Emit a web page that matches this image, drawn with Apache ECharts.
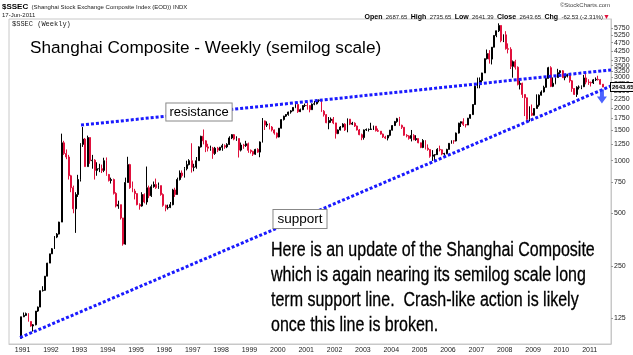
<!DOCTYPE html>
<html><head><meta charset="utf-8">
<script src="https://cdn.jsdelivr.net/npm/echarts@6/dist/echarts.min.js"></script>
<style>html,body{margin:0;padding:0;background:#fff}#c{width:633px;height:355px}</style>
</head><body><div id="c"></div>
<script>
// Monthly bars, starting December 1990
const startYear = 1990, startMonth = 12;
const firstOpen = 96.05;
const closes = [
 127.6,
 129.97,133,120,113,114.8,137.6,145,180,180.9,218,259,292.75,
 313,365,380,445,1266,1100,1050,820,700,530,640,780,
 1240,1330,925,1358,1000,1007,880,900,900,880,1000,834,
 770,780,650,550,560,470,333,750,950,700,670,648,
 560,550,640,580,700,630,710,730,700,720,640,555,
 537,540,560,680,640,780,850,820,900,950,1000,917,
 920,1000,1200,1380,1300,1200,1180,1180,1100,1180,1150,1194,
 1220,1200,1240,1350,1410,1330,1340,1150,1230,1220,1250,1147,
 1130,1090,1160,1120,1280,1690,1600,1620,1560,1500,1440,1367,
 1535,1720,1800,1840,1900,1930,2020,2100,1910,1960,2070,2073,
 2070,1960,2110,2120,2215,2218,1920,1835,1650,1700,1730,1646,
 1430,1500,1560,1620,1500,1730,1620,1640,1580,1500,1410,1357,
 1500,1510,1510,1520,1576,1487,1476,1421,1367,1348,1397,1497,
 1590,1675,1742,1595,1555,1399,1386,1342,1396,1320,1340,1266,
 1191,1306,1181,1159,1060,1080,1083,1162,1155,1092,1099,1161,
 1258,1299,1298,1440,1641,1672,1612,1601,1752,1837,2099,2675,
 2786,2881,3183,3841,4109,3820,4471,5218,5552,5954,4871,5261,
 4383,4348,3472,3693,3433,2736,2775,2397,2293,1728,1871,1821,
 1991,2082,2373,2477,2632,2959,3412,2667,2779,2995,3195,3277,
 2989,3051,3109,2870,2592,2398,2638,2638,2655,2979,2820,2808,
 2790,2905,2928,2911,2743,2643.65
];
const highs = [
 127.6,
 135,134.9,134,120,116,137.6,146,180,191,218,260,292.75,
 316,370,385,447,1429,1300,1160,1080,830,720,660,830,
 1260,1559,1350,1392,1300,1080,1020,980,960,950,1040,1044,
 840,800,790,660,590,560,470,800,1053,960,760,690,
 650,570,660,650,926,720,730,760,790,750,720,650,
 560,560,580,690,700,800,880,880,920,1000,1020,1259,
 960,1050,1210,1390,1510,1310,1250,1220,1200,1200,1200,1200,
 1250,1240,1260,1380,1420,1422,1380,1340,1270,1250,1300,1270,
 1160,1140,1170,1180,1290,1756,1700,1680,1640,1580,1510,1450,
 1540,1730,1810,1850,1910,1950,2030,2114,2090,1990,2080,2125,
 2140,2080,2130,2200,2240,2245,2230,1950,1850,1780,1770,1780,
 1650,1510,1580,1640,1640,1748,1720,1670,1660,1590,1520,1430,
 1510,1530,1530,1650,1590,1580,1530,1480,1430,1390,1400,1500,
 1600,1690,1760,1783,1610,1560,1420,1400,1500,1420,1400,1340,
 1270,1330,1310,1240,1160,1150,1090,1180,1220,1160,1110,1170,
 1260,1310,1310,1450,1650,1680,1750,1620,1760,1840,2100,2699,
 2994,3000,3190,3850,4335,4300,4480,5220,5560,6124,5960,5300,
 5522,4700,4470,3750,3786,3470,2950,2800,2400,2300,2050,2100,
 2000,2400,2400,2530,2690,2990,3450,3478,3000,3000,3361,3300,
 3306,3070,3150,3181,2900,2610,2670,2700,2700,3100,3186,2930,
 2840,2940,3000,3067,2940,2750
];
const lows = [
 96,
 127,129,120,112,105,114,136,145,178,180,218,259,
 292,312,360,378,445,1080,1020,780,660,500,386,620,
 760,1200,925,925,960,900,780,820,860,850,860,820,
 760,740,640,540,530,460,326,330,750,690,660,600,
 555,524,545,570,560,610,620,700,690,690,630,545,
 513,525,535,555,620,640,770,800,800,880,940,855,
 870,900,1000,1190,1240,1120,1130,1140,1025,1080,1120,1140,
 1140,1170,1180,1230,1330,1310,1300,1043,1130,1170,1200,1110,
 1100,1064,1080,1110,1047,1270,1500,1560,1510,1470,1410,1341,
 1360,1530,1700,1780,1810,1860,1920,2000,1880,1900,1950,2030,
 1960,1893,1960,2080,2100,2160,1900,1790,1640,1514,1650,1620,
 1339,1420,1490,1550,1480,1455,1600,1600,1560,1490,1400,1311,
 1320,1480,1470,1500,1500,1470,1460,1410,1350,1330,1307,1380,
 1490,1580,1650,1580,1520,1390,1360,1320,1290,1310,1300,1260,
 1180,1180,1160,1140,1040,998,1004,1080,1130,1075,1068,1090,
 1160,1250,1250,1290,1430,1560,1580,1550,1600,1740,1830,2090,
 2600,2600,2800,3180,3800,3600,3560,4460,5100,5460,4770,4780,
 4330,4120,3350,2990,3330,2700,2560,2290,1802,1664,1680,1800,
 1814,2037,2037,2360,2460,2630,2960,2640,2640,2740,2990,3040,
 2980,2890,3000,2800,2480,2380,2319,2560,2570,2640,2740,2720,
 2661,2750,2860,2880,2730,2641.39
];
const yearTicks = [1991,1992,1993,1994,1995,1996,1997,1998,1999,2000,2001,2002,2003,2004,2005,2006,2007,2008,2009,2010,2011];
const priceTicks = [125,250,500,750,1000,1250,1500,1750,2000,2250,2500,2750,3000,3250,3500,3750,4250,4750,5250,5750,6250];
const resistanceX = [1993.06, 2011.75];
const resistanceY = [1600, 3310];
const supportX = [1990.91, 2011.75];
const supportY = [97, 2680];
const lastClose = 2643.65;
const arrowX = [2011.43];
const arrowY = [2330];
const noteLines = [
 'Here is an update of the Shanghai Composite',
 'which is again nearing its semilog scale long',
 'term support line.  Crash-like action is likely',
 'once this line is broken.'
];

const candles = closes.map((c, i) => {
  const m = startMonth - 1 + i;
  const yr = startYear + Math.floor(m / 12);
  const mo = m % 12;
  const t = yr + (mo + 0.5) / 12;
  const o = i === 0 ? firstOpen : closes[i - 1];
  const h = Math.max(highs[i], o, c), l = Math.min(lows[i], o, c);
  return [t, o, c, l, h];
});

const chart = echarts.init(document.getElementById('c'), null, {renderer: 'canvas'});
const SANS = '"Liberation Sans", Arial, sans-serif';
const blue = '#1a1aff';
const red = '#e0103c';

const option = {
  animation: false,
  backgroundColor: '#fff',
  grid: {left: 9, right: 22, top: 19, bottom: 11, show: true, borderColor: '#c8c8c8', borderWidth: 1, backgroundColor: '#fff'},
  xAxis: {
    type: 'value', min: 1990.52, max: 2011.75,
    splitLine: {show: false},
    axisLine: {show: true, lineStyle: {color: '#c8c8c8'}},
    axisTick: {show: false},
    axisLabel: {customValues: yearTicks, formatter: v => String(Math.round(v)), fontSize: 7, color: '#222', margin: 3, fontFamily: SANS}
  },
  yAxis: {
    type: 'log', position: 'right', min: 89.1, max: 6485,
    splitLine: {show: false},
    axisLine: {show: true, lineStyle: {color: '#c8c8c8'}},
    axisTick: {show: true, customValues: priceTicks, length: 2, inside: false, lineStyle: {color: '#999'}},
    axisLabel: {customValues: priceTicks, formatter: v => String(Math.round(v)), fontSize: 7, color: '#222', margin: 3, fontFamily: SANS}
  },
  series: [
    {
      type: 'candlestick', data: candles,
      dimensions: ['t', 'open', 'close', 'lowest', 'highest'],
      encode: {x: 0, y: [1, 2, 3, 4]},
      barWidth: 1.4,
      itemStyle: {color: '#000', color0: red, borderColor: '#000', borderColor0: red, borderWidth: 1}
    },
    {
      type: 'line', data: resistanceX.map((x, i) => [x, resistanceY[i]]), symbol: 'none', z: 5,
      lineStyle: {color: blue, width: 3, type: [3, 2]}
    },
    {
      type: 'line', data: supportX.map((x, i) => [x, supportY[i]]), symbol: 'none', z: 5,
      lineStyle: {color: blue, width: 3, type: [3, 2]}
    },
    {
      type: 'scatter', data: arrowX.map((x, i) => [x, arrowY[i]]), z: 6,
      symbol: 'path://M3,0 L7,0 L7,7 L10,7 L5,14 L0,7 L3,7 Z', symbolSize: [10, 14],
      itemStyle: {color: '#1f3cff'}
    }
  ]
};
chart.setOption(option);

const tagY = chart.convertToPixel({yAxisIndex: 0}, lastClose);
const graphics = [
  {type: 'text', x: 2, y: 1, style: {rich: {b: {font: 'bold 8px ' + SANS, fill: '#000'}, n: {font: '6px ' + SANS, fill: '#222'}}, text: '{b|$SSEC} {n|(Shanghai Stock Exchange Composite Index (EOD)) INDX}'}},
  {type: 'text', x: 2, y: 12, style: {text: '17-Jun-2011', font: '6px ' + SANS, fill: '#222'}},
  {type: 'text', x: 12, y: 21, style: {text: '$SSEC (Weekly)', font: '7px "Liberation Mono", monospace', fill: '#222'}, z: 10},
  {type: 'text', x: 610, y: 2, style: {text: '\u00A9StockCharts.com', font: '6px ' + SANS, fill: '#444', align: 'right'}},
  {type: 'text', x: 610, y: 11, style: {align: 'right', rich: {b: {font: 'bold 7px ' + SANS, fill: '#000'}, n: {font: '6px ' + SANS, fill: '#222'}, r: {font: '7px ' + SANS, fill: red}},
    text: '{b|Open} {n|2687.65} {b|High} {n|2735.65} {b|Low} {n|2641.39} {b|Close} {n|2643.65} {b|Chg} {n|-62.53 (-2.31%)}{r|\u25BC}'}},
  {type: 'text', x: 30, y: 48, z: 20, style: {text: 'Shanghai Composite - Weekly (semilog scale)', font: '17.2px ' + SANS, fill: '#000', verticalAlign: 'middle'}},
  {type: 'text', x: 199, y: 112, z: 20, style: {text: 'resistance', font: '13px ' + SANS, fill: '#000', align: 'center', verticalAlign: 'middle', backgroundColor: '#fff', borderColor: '#888', borderWidth: 1, padding: [2, 3, 2, 3]}},
  {type: 'text', x: 300, y: 219, z: 20, style: {text: 'support', font: '13.5px ' + SANS, fill: '#000', align: 'center', verticalAlign: 'middle', backgroundColor: '#fff', borderColor: '#888', borderWidth: 1, padding: [2, 4, 2, 4]}},
  {type: 'text', x: 611, y: tagY, z: 30, style: {text: lastClose.toFixed(2), font: 'bold 6px ' + SANS, fill: '#000', verticalAlign: 'middle', backgroundColor: '#f4f4f4', borderColor: '#000', borderWidth: 1, padding: [1, 1, 1, 1]}}
];
noteLines.forEach((s, i) => {
  graphics.push({type: 'text', x: 271, y: 250 + i * 25, scaleX: 0.8, z: 20, style: {text: s, font: '20px ' + SANS, fill: '#000', stroke: '#000', lineWidth: 0.3, verticalAlign: 'middle'}});
});
chart.setOption({graphic: graphics});
</script>
</body></html>
